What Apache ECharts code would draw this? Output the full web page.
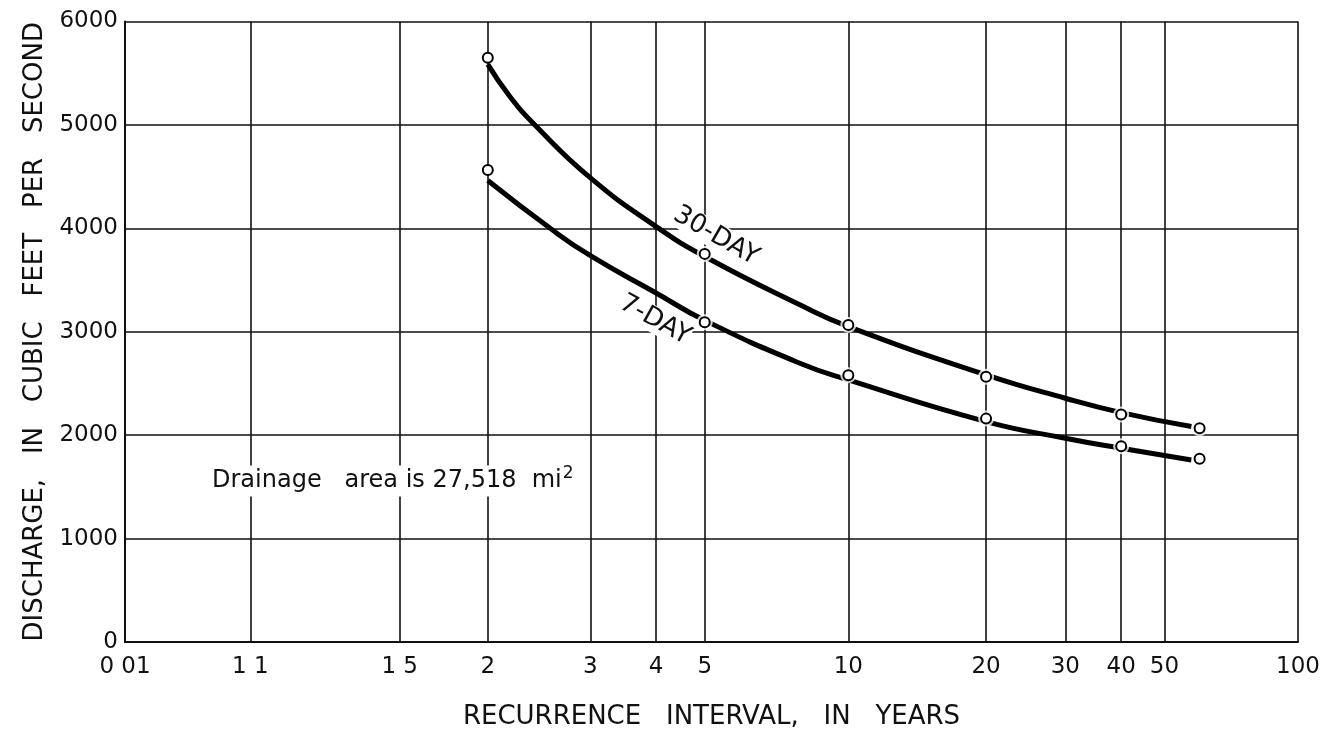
<!DOCTYPE html>
<html><head><meta charset="utf-8">
<script src="https://cdn.jsdelivr.net/npm/echarts@6/dist/echarts.min.js"></script>
<style>html,body{margin:0;padding:0;background:#fff}#c{width:1332px;height:736px}</style>
</head><body><div id="c"></div>
<script>
// Recurrence-interval ticks (years) and their printed labels
const xTickYears  = [1.01, 1.1, 1.5, 2, 3, 4, 5, 10, 20, 30, 40, 50, 100];
const xTickLabels = ['0 01', '1 1', '1 5', '2', '3', '4', '5', '10', '20', '30', '40', '50', '100'];
const yTickValues = [0, 1000, 2000, 3000, 4000, 5000, 6000];

// Fitted curves (recurrence interval in years, discharge in ft3/s)
const curve30Years = [2, 2.17, 2.39, 3, 4, 5, 7.88, 10, 20, 30, 40, 57.5];
const curve30Q     = [5585, 5275, 5000, 4488, 4017, 3727, 3260, 3050, 2583, 2357, 2218, 2083];
const curve7Years  = [2, 2.54, 3, 4, 5, 7.88, 10, 20, 30, 40, 57.5];
const curve7Q      = [4462, 4000, 3735, 3375, 3110, 2696, 2534, 2131, 1970, 1873, 1760];

// Plotted (observed) points
const obsYears = [2, 5, 10, 20, 40, 60];
const obs30Q   = [5650, 3753, 3066, 2566, 2199, 2067];
const obs7Q    = [4563, 3092, 2580, 2160, 1893, 1773];

const curve30Label = '30-DAY';
const curve7Label = '7-DAY';
const noteText = 'Drainage   area is 27,518  mi';
const xTitle = 'RECURRENCE   INTERVAL,   IN   YEARS';
const yTitle = 'DISCHARGE,   IN   CUBIC   FEET   PER   SECOND';

// Gumbel (extreme-value) probability scale
const g = T => -Math.log(-Math.log(1 - 1 / T));
const xTickPos = xTickYears.map(g);
const FONT = 'DejaVu Sans';
const zip = (xs, ys) => xs.map((x, i) => [g(x), ys[i]]);

const chart = echarts.init(document.getElementById('c'), null, {renderer: 'canvas'});
const gridStyle = {color: '#111', width: 1.6};
chart.setOption({
  backgroundColor: '#fff',
  animation: false,
  grid: {left: 125, right: 34, top: 21.5, bottom: 94, containLabel: false},
  xAxis: {
    type: 'value', min: g(1.01), max: g(100),
    name: xTitle, nameLocation: 'middle', nameGap: 62,
    nameTextStyle: {fontFamily: FONT, fontSize: 26, color: '#111'},
    axisLine: {show: true, onZero: false, lineStyle: {color: '#111', width: 2}},
    axisTick: {show: false, customValues: xTickPos},
    axisLabel: {
      customValues: xTickPos, margin: 14,
      fontFamily: FONT, fontSize: 23, color: '#111',
      formatter: v => {
        let best = 0;
        xTickPos.forEach((p, i) => { if (Math.abs(p - v) < Math.abs(xTickPos[best] - v)) best = i; });
        return xTickLabels[best];
      }
    },
    splitLine: {show: true, lineStyle: gridStyle}
  },
  yAxis: {
    type: 'value', min: yTickValues[0], max: yTickValues[yTickValues.length - 1], interval: 1000,
    name: yTitle, nameLocation: 'middle', nameGap: 77, nameRotate: 90,
    nameTextStyle: {fontFamily: FONT, fontSize: 26, color: '#111'},
    axisLine: {show: true, onZero: false, lineStyle: {color: '#111', width: 2}},
    axisTick: {show: false},
    axisLabel: {margin: 7, fontFamily: FONT, fontSize: 23, color: '#111', formatter: v => String(v)},
    splitLine: {show: true, lineStyle: gridStyle}
  },
  series: [
    {type: 'line', name: '30-day', data: zip(curve30Years, curve30Q), smooth: 0.5,
     showSymbol: false, lineStyle: {color: '#000', width: 5}, z: 3},
    {type: 'line', name: '7-day', data: zip(curve7Years, curve7Q), smooth: 0.5,
     showSymbol: false, lineStyle: {color: '#000', width: 5}, z: 3},
    {type: 'scatter', name: 'halo', symbolSize: 16, silent: true,
     data: zip(obsYears.slice(1), obs30Q.slice(1)).concat(zip(obsYears.slice(1), obs7Q.slice(1))),
     itemStyle: {color: '#fff'}, z: 4},
    {type: 'scatter', name: 'obs30', symbolSize: 10, data: zip(obsYears, obs30Q),
     itemStyle: {color: '#fff', borderColor: '#000', borderWidth: 2, opacity: 1}, z: 5},
    {type: 'scatter', name: 'obs7', symbolSize: 10, data: zip(obsYears, obs7Q),
     itemStyle: {color: '#fff', borderColor: '#000', borderWidth: 2, opacity: 1}, z: 5}
  ],
  graphic: [
    {type: 'text', x: 716, y: 236, rotation: -30 * Math.PI / 180, z: 10,
     style: {text: curve30Label, fontFamily: FONT, fontSize: 26, fill: '#111',
             align: 'center', verticalAlign: 'middle', backgroundColor: '#fff'}},
    {type: 'text', x: 655, y: 320, rotation: -29 * Math.PI / 180, z: 10,
     style: {text: curve7Label, fontFamily: FONT, fontSize: 26, fill: '#111',
             align: 'center', verticalAlign: 'middle', backgroundColor: '#fff'}},
    {type: 'text', x: 212, y: 481, z: 10,
     style: {text: noteText + '{sup|2}', fontFamily: FONT, fontSize: 24, fill: '#111',
             align: 'left', verticalAlign: 'middle', backgroundColor: '#fff',
             rich: {sup: {fontFamily: FONT, fontSize: 17, fill: '#111', padding: [0, 0, 14, 1]}}}}
  ]
});
</script></body></html>
